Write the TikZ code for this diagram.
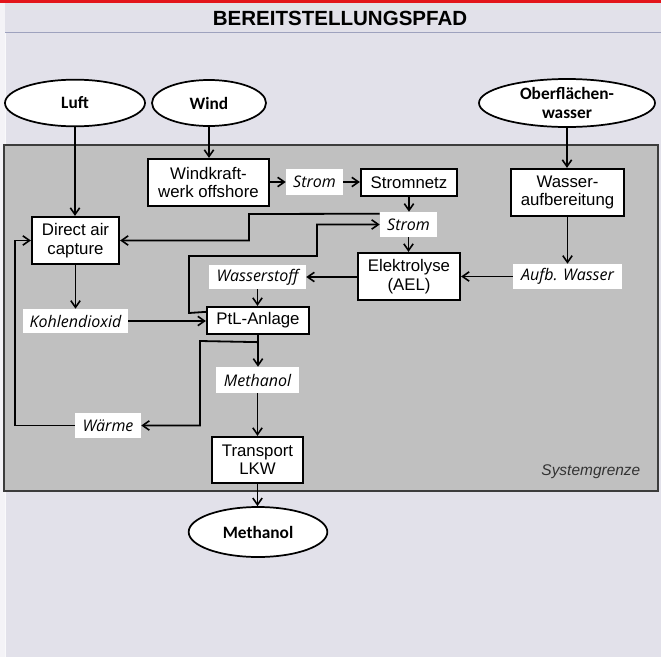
\documentclass[tikz,border=0pt]{standalone}
\usepackage{fontspec}
\setmainfont{Liberation Sans}
\newfontfamily\ellfont{Carlito}
\newfontfamily\flowfont{Open Sans}
\usetikzlibrary{arrows.meta,shapes.geometric,calc}

\definecolor{pagebg}{HTML}{E2E1EA}
\definecolor{sysgray}{HTML}{C0C0C0}
\definecolor{sysedge}{HTML}{3C3C3C}
\definecolor{topred}{HTML}{E3141C}
\definecolor{sepline}{HTML}{9EA2BE}

\tikzset{
  source/.style={ellipse, draw=black, fill=white, line width=1.3pt, inner sep=0pt,
    align=center, font=\ellfont\bfseries\fontsize{13}{14.5}\selectfont},
  process/.style={rectangle, draw=black, fill=white, line width=1.7pt, inner sep=0pt,
    align=center, font=\fontsize{12.6}{13.8}\selectfont},
  flow/.style={rectangle, fill=white, inner sep=0pt,
    font=\flowfont\itshape\fontsize{12}{13}\selectfont},
  arr/.style={-{Straight Barb[length=5pt,width=7pt,line width=1.2pt]}, line width=1.35pt, black},
}

\begin{document}
\begin{tikzpicture}[x=0.75pt, y=-0.75pt]
  % page frame
  \useasboundingbox (0,0) rectangle (661,657);
  \fill[pagebg] (0,0) rectangle (661,657);
  \fill[white!60!pagebg] (0,3) rectangle (5,657);
  \draw[white!80!pagebg, line width=0.5pt] (5,32) -- (5,657);
  \fill[topred] (0,0) rectangle (661,3);
  \draw[sepline, line width=0.6pt] (5,32) -- (661,32);
  \node[font=\bfseries\fontsize{15.4}{17}\selectfont] (title) at (340,18) {BEREITSTELLUNGSPFAD};

  % system boundary
  \draw[sysedge, fill=sysgray, line width=1.4pt] (4,145) rectangle (658,491);
  \node[anchor=east, text=black!80, font=\itshape\fontsize{11.6}{13}\selectfont] (sysg) at (645,472) {Systemgrenze};

  % sources and product
  \node[source, minimum width=105pt, minimum height=35pt] (luft) at (75,103) {Luft};
  \node[source, minimum width=85.5pt, minimum height=34.5pt] (wind) at (209,103) {Wind};
  \node[source, minimum width=132pt, minimum height=36pt] (ow) at (567,103) {Oberflächen-\\wasser};
  \node[source, minimum width=104pt, minimum height=37.5pt] (methE) at (258,532) {Methanol};

  % process boxes
  \node[process, minimum width=90.75pt, minimum height=35.25pt] (wkw) at (208.5,182.5) {Windkraft-\\werk offshore};
  \node[process, minimum width=65.25pt, minimum height=35.25pt] (dac) at (75.5,240.5) {Direct air\\capture};
  \node[process, minimum width=72pt, minimum height=20.25pt] (netz) at (409,182.5) {Stromnetz};
  \node[process, minimum width=84.75pt, minimum height=35.25pt] (wa) at (567.5,192.5) {Wasser-\\aufbereitung};
  \node[process, minimum width=76.5pt, minimum height=35.25pt] (el) at (409,276.5) {Elektrolyse\\(AEL)};
  \node[process, minimum width=76.5pt, minimum height=20.25pt] (ptl) at (258,320.5) {PtL-Anlage};
  \node[process, minimum width=68.25pt, minimum height=34.5pt] (tr) at (257.5,460) {Transport\\LKW};

  % material and energy flows
  \node[flow, minimum width=42.75pt, minimum height=19.5pt] (strom1) at (314.5,182) {Strom};
  \node[flow, minimum width=42.75pt, minimum height=18.75pt] (strom2) at (408.5,224.5) {Strom};
  \node[flow, minimum width=72.75pt, minimum height=18pt] (h2) at (257.5,277) {Wasserstoff};
  \node[flow, minimum width=81.75pt, minimum height=18.75pt] (aufb) at (567.5,276.5) {Aufb. Wasser};
  \node[flow, minimum width=78.75pt, minimum height=18pt] (co2) at (75.5,321) {Kohlendioxid};
  \node[flow, minimum width=62.25pt, minimum height=19.5pt] (meth) at (257.5,380) {Methanol};
  \node[flow, minimum width=49.5pt, minimum height=18.75pt] (waerme) at (108,425.5) {Wärme};

  % straight connectors
  \draw[arr] (luft.south) -- (luft.south |- dac.north);
  \draw[arr] (wind.south) -- (wind.south |- wkw.north);
  \draw[arr] (ow.south) -- (ow.south |- wa.north);
  \draw[arr] (wkw.east |- strom1.west) -- (strom1.west);
  \draw[arr] (strom1.east) -- (strom1.east -| netz.west);
  \draw[arr] (netz.south) -- (netz.south |- strom2.north);
  \draw[arr] (strom2.south) -- (strom2.south |- el.north);
  \draw[arr] (wa.south) -- (wa.south |- aufb.north);
  \draw[arr] (aufb.west) -- (aufb.west -| el.east);
  \draw[arr] (el.west |- h2.east) -- (h2.east);
  \draw[arr] (h2.south) -- (h2.south |- ptl.north);
  \draw[arr] (dac.south) -- (dac.south |- co2.north);
  \draw[arr] (co2.east) -- (co2.east -| ptl.west);
  \draw[arr] (ptl.south) -- (ptl.south |- meth.north);
  \draw[arr] (meth.south) -- (meth.south |- tr.north);
  \draw[arr] (tr.south) -- (tr.south |- methE.north);

  % routed connectors
  \coordinate (sA) at ($(strom2.north west)+(0,2)$);
  \draw[arr] (sA) -- (249,214) |- (dac.east);
  \coordinate (pA) at ($(ptl.north west)+(0,6)$);
  \draw[arr] (pA) -- (189,313) -- (189,256) -- (317,256) |- (strom2.west);
  \coordinate (pB) at ($(ptl.south)+(0,7)$);
  \draw[arr] (pB) -- (200,341) |- (waerme.east);
  \draw[arr] (waerme.west) -- (15,425.5) |- (dac.west);
\end{tikzpicture}
\end{document}
